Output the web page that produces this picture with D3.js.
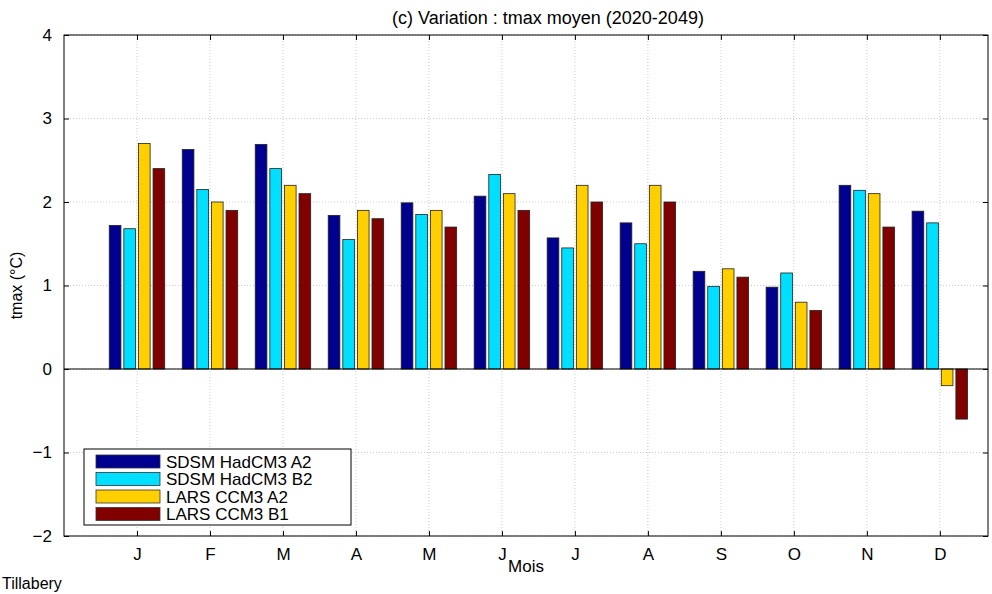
<!DOCTYPE html>
<html><head><meta charset="utf-8">
<script src="https://cdn.jsdelivr.net/npm/d3@7"></script>
<style>body{margin:0;background:#fff}text{font-family:"Liberation Sans",Arial,sans-serif}</style>
</head><body><svg id="c" width="992" height="594"></svg>
<script>
const months = ["J","F","M","A","M","J","J","A","S","O","N","D"];
const series = ["SDSM HadCM3 A2","SDSM HadCM3 B2","LARS CCM3 A2","LARS CCM3 B1"];
const colors = ["#00008f","#00dfff","#ffcf00","#800000"];
const sdsmA2 = [1.72,2.63,2.69,1.84,1.99,2.07,1.57,1.75,1.17,0.98,2.2,1.89];
const sdsmB2 = [1.68,2.15,2.4,1.55,1.85,2.33,1.45,1.5,0.99,1.15,2.14,1.75];
const larsA2 = [2.7,2.0,2.2,1.9,1.9,2.1,2.2,2.2,1.2,0.8,2.1,-0.2];
const larsB1 = [2.4,1.9,2.1,1.8,1.7,1.9,2.0,2.0,1.1,0.7,1.7,-0.6];
const values = [sdsmA2,sdsmB2,larsA2,larsB1];
const yTicks = [-2,-1,0,1,2,3,4];

const svg = d3.select("#c");
const L=64,R=988,T=35,B=536;
const x = d3.scaleLinear().domain([0,12.66]).range([L,R]);
const y = d3.scaleLinear().domain([-2,4]).range([B,T]);
const g = svg.append("g");

// grid
g.selectAll(".gx").data(d3.range(1,13)).join("line")
  .attr("x1",d=>x(d)).attr("x2",d=>x(d)).attr("y1",T).attr("y2",B)
  .attr("stroke","#ccc").attr("stroke-dasharray","1,2");
g.selectAll(".gy").data(yTicks).join("line")
  .attr("x1",L).attr("x2",R).attr("y1",d=>y(d)).attr("y2",d=>y(d))
  .attr("stroke","#ccc").attr("stroke-dasharray","1,2");

// bars
const bw = 0.8/4;
series.forEach((s,si)=>{
  g.selectAll(".b"+si).data(values[si]).join("rect")
    .attr("x",(d,i)=>x(i+1-0.4+si*bw+0.02))
    .attr("width",x(bw-0.04)-x(0))
    .attr("y",d=>y(Math.max(0,d)))
    .attr("height",d=>Math.abs(y(d)-y(0)))
    .attr("fill",colors[si]).attr("stroke","#222").attr("stroke-width",0.8);
});
g.append("line").attr("x1",L).attr("x2",R).attr("y1",y(0)).attr("y2",y(0)).attr("stroke","#000");

g.append("rect").attr("x",L).attr("y",T).attr("width",R-L).attr("height",B-T)
  .attr("fill","none").attr("stroke","#000");
const xa = svg.append("g").attr("transform",`translate(0,${B})`)
  .call(d3.axisBottom(x).tickValues(d3.range(1,13)).tickFormat(d=>months[d-1]).tickSizeInner(-5).tickSizeOuter(0).tickPadding(12));
const ya = svg.append("g").attr("transform",`translate(${L},0)`)
  .call(d3.axisLeft(y).tickValues(yTicks).tickFormat(d3.format("d")).tickSizeInner(-5).tickSizeOuter(0).tickPadding(12));
[xa,ya].forEach(a=>{a.select(".domain").remove();a.selectAll("text").style("font-size","17px").attr("fill","#000");});
svg.append("g").attr("transform",`translate(0,${T})`)
  .call(d3.axisTop(x).tickValues(d3.range(1,13)).tickFormat("").tickSizeInner(-5).tickSizeOuter(0))
  .select(".domain").remove();
svg.append("g").attr("transform",`translate(${R},0)`)
  .call(d3.axisRight(y).tickValues(yTicks).tickFormat("").tickSizeInner(-5).tickSizeOuter(0))
  .select(".domain").remove();

svg.append("text").attr("x",548).attr("y",24).attr("text-anchor","middle").style("font-size","18px").text("(c) Variation : tmax moyen (2020-2049)");
svg.append("text").attr("x",(L+R)/2).attr("y",572).attr("text-anchor","middle").style("font-size","17px").text("Mois");
svg.append("text").attr("transform",`translate(22,${(T+B)/2}) rotate(-90)`).attr("text-anchor","middle").style("font-size","16px").text("tmax (°C)");
svg.append("text").attr("x",2).attr("y",589).style("font-size","16px").text("Tillabery");

const lg = svg.append("g").attr("transform","translate(84,449)");
lg.append("rect").attr("width",267).attr("height",76).attr("fill","#fff").attr("stroke","#000");
series.forEach((s,i)=>{
  lg.append("rect").attr("x",12).attr("y",6+i*17.5).attr("width",64).attr("height",13)
    .attr("fill",colors[i]).attr("stroke","#333").attr("stroke-width",0.8);
  lg.append("text").attr("x",82).attr("y",18.5+i*17.5).style("font-size","17px").text(s);
});
</script></body></html>
